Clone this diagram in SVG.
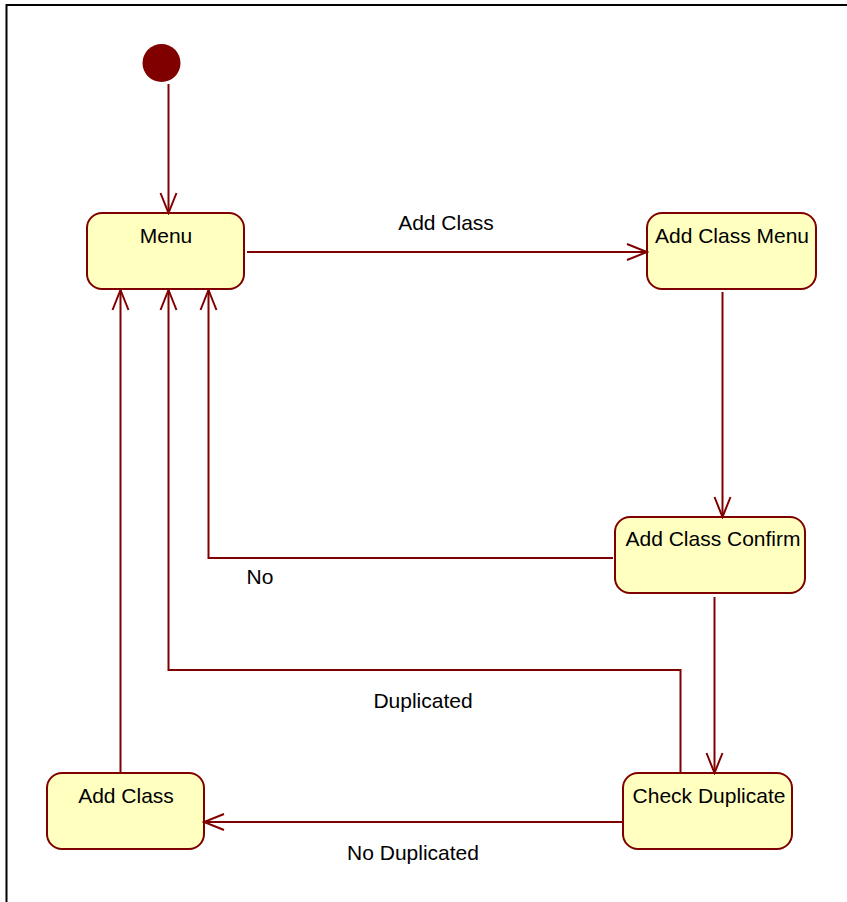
<svg xmlns="http://www.w3.org/2000/svg" width="847" height="902" viewBox="0 0 847 902">
<defs>
<marker id="arr" viewBox="0 0 24 20" refX="22" refY="10" markerWidth="24" markerHeight="20" markerUnits="userSpaceOnUse" orient="auto">
<path d="M2,2 L22,10 L2,18" fill="none" stroke="#800000" stroke-width="2"/>
</marker>
<style>
.st rect{fill:#FFFFC0;stroke:#800000;stroke-width:2}
.st text,.lbl{font-family:"Liberation Sans",Arial,sans-serif;font-size:21px;fill:#000;text-anchor:middle}
.c{fill:none;stroke:#800000;stroke-width:2;marker-end:url(#arr)}
</style>
</defs>
<rect width="847" height="902" fill="#fff"/>
<path d="M6.5,902 V5 H847" fill="none" stroke="#000" stroke-width="2"/>
<g id="initial"><circle cx="161.5" cy="63" r="19" fill="#800000"/></g>
<g id="menu" class="st"><rect x="87" y="213" width="157" height="76" rx="15"/><text x="166" y="243">Menu</text></g>
<g id="addClassMenu" class="st"><rect x="647" y="213" width="169" height="76" rx="15"/><text x="732" y="243">Add Class Menu</text></g>
<g id="addClassConfirm" class="st"><rect x="615" y="517" width="190" height="76" rx="15"/><text x="713" y="546">Add Class Confirm</text></g>
<g id="checkDuplicate" class="st"><rect x="623" y="773" width="169" height="76" rx="15"/><text x="709" y="803">Check Duplicate</text></g>
<g id="addClass" class="st"><rect x="47" y="773" width="157" height="76" rx="15"/><text x="126" y="803">Add Class</text></g>
<g id="connectors">
<path class="c" d="M168.5,84 V213"/>
<path class="c" d="M247,252 H647"/>
<path class="c" d="M722.5,292 V517"/>
<path class="c" d="M613,558 H208.5 V290"/>
<path class="c" d="M714.5,597 V773"/>
<path class="c" d="M680.5,773 V670 H168.5 V290"/>
<path class="c" d="M120.5,773 V290"/>
<path class="c" d="M623,822 H204"/>
<text class="lbl" x="446" y="230">Add Class</text>
<text class="lbl" x="260" y="584">No</text>
<text class="lbl" x="423" y="708">Duplicated</text>
<text class="lbl" x="413" y="860">No Duplicated</text>
</g>
</svg>
